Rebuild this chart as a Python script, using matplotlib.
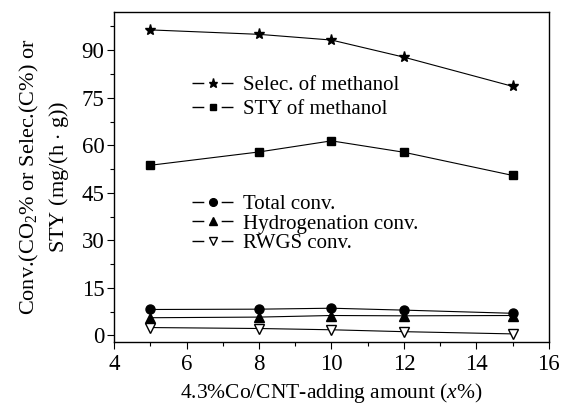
import numpy as np
import matplotlib
matplotlib.use("Agg")
import matplotlib.pyplot as plt
from matplotlib.ticker import MultipleLocator
from matplotlib.lines import Line2D

plt.rcParams['font.family'] = ['Liberation Serif', 'DejaVu Serif']
plt.rcParams['mathtext.fontset'] = 'custom'
plt.rcParams['mathtext.rm'] = 'Liberation Serif'
plt.rcParams['mathtext.it'] = 'Liberation Serif:italic'

# data
x = [5, 8, 10, 12, 15]
selec = [96.4, 95.0, 93.2, 87.8, 78.6]
sty = [53.7, 57.9, 61.4, 57.8, 50.5]
total = [8.2, 8.3, 8.6, 8.0, 7.0]
hydro = [5.6, 5.8, 6.3, 6.2, 6.3]
rwgs = [2.5, 2.2, 1.8, 1.2, 0.5]

names = ['Selec. of methanol', 'STY of methanol', 'Total conv.',
         'Hydrogenation conv.', 'RWGS conv.']
series = [selec, sty, total, hydro, rwgs]
markers = ['*', 's', 'o', '^', 'v']
msizes = [8, 5.5, 6.5, 6.5, 7]
faces = ['black', 'black', 'black', 'black', 'white']

fig = plt.figure(figsize=(5.74, 4.05), dpi=100)
ax = fig.add_axes([0.199, 0.156, 0.757, 0.814])

lw = 0.8
handles = []
for ys, m, ms, fc, nm in zip(series, markers, msizes, faces, names):
    ax.plot(x, ys, '-', color='black', lw=lw, marker=m, ms=ms, mfc=fc, mec='black')
    # legend handle: short dash, marker, short dash
    h = Line2D([], [], color='black', lw=1.0, marker=m, ms=ms * 0.85, mfc=fc,
               mec='black', dashes=(8.5, 12.5), label=nm)
    handles.append(h)

ax.set_xlim(4, 16)
ax.set_ylim(-2, 102)
ax.xaxis.set_major_locator(MultipleLocator(2))
ax.xaxis.set_minor_locator(MultipleLocator(1))
ax.yaxis.set_major_locator(MultipleLocator(15))
ax.yaxis.set_minor_locator(MultipleLocator(7.5))
ax.tick_params(which='both', direction='out', labelsize=16.5, width=0.8)
ax.tick_params(which='major', length=5)
ax.tick_params(which='minor', length=3)
ax.tick_params(axis='y', pad=2)
ax.tick_params(axis='x', pad=4)
for s in ax.spines.values():
    s.set_linewidth(1.0)

ax.set_xlabel('4.3%Co/CNT-adding amount ($\\mathit{x}$%)', fontsize=15.5, labelpad=4)
ax.set_ylabel('Conv.(CO$_2$% or Selec.(C%) or\nSTY (mg/(h $\\cdot$ g))', fontsize=16, labelpad=8,
              linespacing=1.35)

plt.rcParams['lines.scale_dashes'] = False
leg1 = ax.legend(handles=handles[:2], loc='center left', bbox_to_anchor=(0.179, 0.741),
                 frameon=False, fontsize=15, handlelength=2.0, handletextpad=0.45,
                 labelspacing=0.2, borderaxespad=0, borderpad=0)
ax.add_artist(leg1)
ax.legend(handles=handles[2:], loc='center left', bbox_to_anchor=(0.179, 0.358),
          frameon=False, fontsize=15, handlelength=2.0, handletextpad=0.45,
          labelspacing=0.0, borderaxespad=0, borderpad=0)

fig.savefig('out.png', dpi=100)
